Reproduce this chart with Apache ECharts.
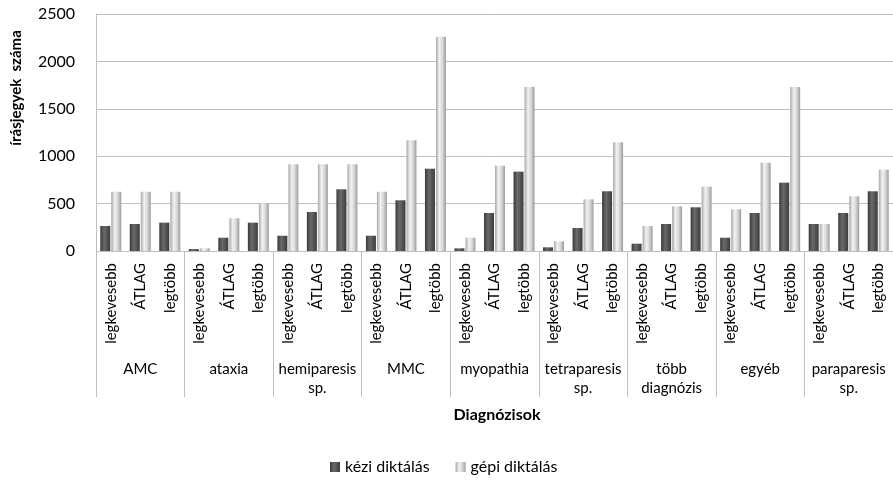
<!DOCTYPE html>
<html>
<head>
<meta charset="utf-8">
<script src="https://cdn.jsdelivr.net/npm/echarts@6/dist/echarts.min.js"></script>
<style>
  html, body { margin: 0; padding: 0; background: #ffffff; }
  #chart { width: 893px; height: 484px; }
</style>
</head>
<body>
<div id="chart"></div>
<script>
const groups = ['AMC', 'ataxia', 'hemiparesis\nsp.', 'MMC', 'myopathia', 'tetraparesis\nsp.', 'több\ndiagnózis', 'egyéb', 'paraparesis\nsp.'];
const subLabels = ['legkevesebb', 'ÁTLAG', 'legtöbb'];
const kezi = [264, 285, 299, 20, 140, 299, 161, 411, 651, 161, 535, 868, 28, 401, 837, 39, 243, 630, 77, 285, 461, 140, 401, 721, 285, 401, 630];
const gepi = [625, 625, 625, 28, 345, 503, 915, 915, 915, 625, 1168, 2261, 140, 900, 1730, 102, 545, 1147, 264, 471, 678, 440, 932, 1730, 285, 577, 858];
const seriesNames = ['kézi diktálás', 'gépi diktálás'];
const yTicks = [0, 500, 1000, 1500, 2000, 2500];

const categories = [];
groups.forEach(() => subLabels.forEach(s => categories.push(s)));

const font = 'Lato, "Open Sans", sans-serif';
const darkGrad = new echarts.graphic.LinearGradient(0, 0, 1, 0, [
  { offset: 0, color: '#3a3a3a' }, { offset: 0.4, color: '#6a6a6a' }, { offset: 1, color: '#3c3c3c' }
]);
const lightGrad = new echarts.graphic.LinearGradient(0, 0, 1, 0, [
  { offset: 0, color: '#a8a8a8' }, { offset: 0.35, color: '#f2f2f2' }, { offset: 0.65, color: '#d8d8d8' }, { offset: 1, color: '#9c9c9c' }
]);

const chart = echarts.init(document.getElementById('chart'));
chart.setOption({
  animation: false,
  backgroundColor: '#ffffff',
  textStyle: { fontFamily: font },
  grid: { left: 96, top: 14, bottom: 233, right: -8, containLabel: false },
  legend: {
    bottom: 4, left: 325, itemWidth: 10, itemHeight: 10, itemGap: 26, icon: 'rect',
    textStyle: { fontFamily: font, fontSize: 16, color: '#000' },
    data: seriesNames
  },
  graphic: [
    { type: 'text', rotation: Math.PI / 2, x: 16, y: 88,
      style: { text: 'írásjegyek  száma', font: 'bold 15px ' + font, fill: '#000', textAlign: 'center', textVerticalAlign: 'middle' } },
    { type: 'text', style: { text: 'Diagnózisok', font: 'bold 16px ' + font, fill: '#000', textAlign: 'center', textVerticalAlign: 'middle', x: 497, y: 415 } }
  ],
  xAxis: [
    {
      type: 'category', data: categories, position: 'bottom',
      axisLine: { show: true, lineStyle: { color: '#bfbfbf', width: 1 } },
      axisTick: { show: false },
      axisLabel: { interval: 0, rotate: 90, margin: 12, fontSize: 15, color: '#000', fontFamily: font }
    },
    {
      type: 'category', data: groups, position: 'bottom',
      axisLine: { show: false },
      axisTick: { show: true, length: 146, lineStyle: { color: '#bfbfbf' }, interval: 0 },
      axisLabel: { interval: 0, margin: 109, fontSize: 15, color: '#000', lineHeight: 19, verticalAlign: 'top', fontFamily: font }
    }
  ],
  yAxis: {
    type: 'value', min: yTicks[0], max: yTicks[yTicks.length - 1], interval: 500,
    axisLine: { show: true, lineStyle: { color: '#bfbfbf' } },
    axisTick: { show: false },
    splitLine: { show: true, lineStyle: { color: '#bfbfbf', width: 1 } },
    axisLabel: { margin: 21, fontSize: 16, color: '#000', fontFamily: font, formatter: v => String(v) }
  },
  series: [
    { name: seriesNames[0], type: 'bar', xAxisIndex: 0, data: kezi, barWidth: 10, barGap: '10%', itemStyle: { color: darkGrad } },
    { name: seriesNames[1], type: 'bar', xAxisIndex: 0, data: gepi, barWidth: 10, barGap: '10%', itemStyle: { color: lightGrad } }
  ]
});
</script>
</body>
</html>
